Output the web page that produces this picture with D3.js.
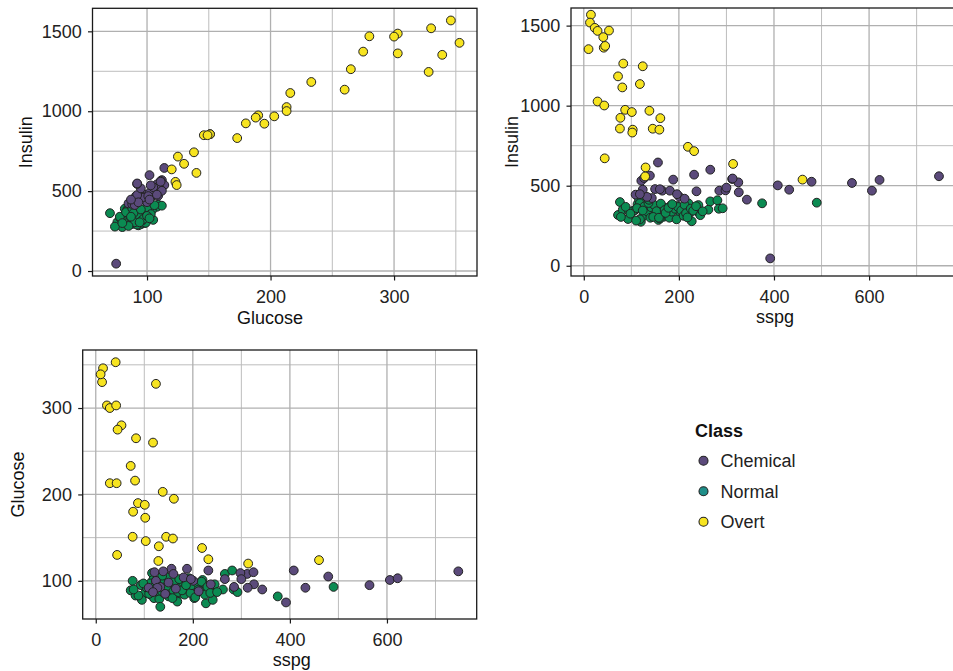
<!DOCTYPE html>
<html>
<head>
<meta charset="utf-8">
<script src="https://cdn.jsdelivr.net/npm/d3@7"></script>
<style>
  body { margin: 0; background: #fff; }
  svg { display: block; }
  text { font-family: "Liberation Sans", Arial, Helvetica, sans-serif; }
</style>
</head>
<body>
<svg id="chart" width="953" height="671"></svg>
<script>
// Reaven & Miller diabetes study: glucose, insulin and sspg by clinical class.
const classes = ["Chemical", "Normal", "Overt"];

const normalGlucose = [82,93,100,89,83,95,89,84,109,101,80,79,70,105,93,102,85,76,100,91,80,101,95,74,78,90,108,112,90,87,89,
  85,92,97,88,94,99,86,91,104,82,96,89,100,87,93,98,84,91,103,86,95,81,97,90,88,99,84,93,86,96,92,78,83,90,97,85,100,88,94,80,102,89,95,87,106];
const normalInsulin = [390,394,398,317,350,292,348,385,415,390,275,323,362,320,286,369,359,306,352,373,323,390,331,278,334,350,402,409,356,359,379,
  330,345,360,310,372,335,300,365,380,318,341,295,388,348,322,300,376,338,356,290,367,345,312,380,328,302,357,344,372,316,290,340,368,305,325,282,345,392,305,300,330,362,385,340,412];
const normalSspg = [375,490,76,72,82,93,108,113,116,118,120,131,133,145,157,166,174,168,188,197,203,220,223,227,241,262,266,281,284,292,241,
  100,105,112,125,128,135,140,142,148,150,153,160,162,170,176,180,183,185,192,195,198,205,210,212,215,218,225,230,236,245,118,95,88,78,98,110,124,136,146,158,172,178,186,250,137];

const chemicalGlucose = [114,112,102,110,111,114,108,110,100,92,98,91,104,85,100,88,96,93,109,102,96,90,112,105,92,75,95,101,103,111,92,93,92,87,102,108];
const chemicalInsulin = [645,569,600,531,563,538,542,521,475,444,479,469,469,423,431,419,465,469,471,488,459,413,502,525,475,46,517,469,536,559,545,430,548,447,447,478];
const chemicalSspg = [156,232,266,121,139,188,312,325,124,109,150,165,181,143,201,212,237,285,298,300,326,343,408,479,432,392,564,606,622,747,313,133,127,118,196,160];

const overtGlucose = [346,330,303,300,280,353,303,275,339,265,328,233,216,260,213,213,190,188,203,180,195,151,146,173,151,149,138,125,130,140,120,123,124];
const overtInsulin = [1568,1519,1486,1467,1469,1428,1362,1373,1353,1263,1246,1183,1114,1135,1026,1001,974,960,968,924,922,857,850,832,856,850,743,716,671,614,636,558,538];
const overtSspg = [15,13,23,29,53,41,42,45,10,83,124,72,81,118,29,43,87,101,138,77,161,76,103,102,145,159,219,232,44,130,314,129,460];

// Axis ticks
const glucoseTicks = [100, 200, 300];
const glucoseMinor = [150, 250, 350];
const insulinTicks = [0, 500, 1000, 1500];
const insulinMinor = [250, 750, 1250];
const sspgTicks = [0, 200, 400, 600];
const sspgMinor = [100, 300, 500, 700];

const pointFill = { Chemical: "#5b4a7b", Normal: "#0b8b52", Overt: "#f7e420" };
const keyFill = { Chemical: "#5b4a7b", Normal: "#1f8e89", Overt: "#f7e420" };

function rows(cls, g, ins, s) {
  return g.map((v, k) => ({ cls, glucose: v, insulin: ins[k], sspg: s[k] }));
}
const data = [
  ...rows("Normal", normalGlucose, normalInsulin, normalSspg),
  ...rows("Chemical", chemicalGlucose, chemicalInsulin, chemicalSspg),
  ...rows("Overt", overtGlucose, overtInsulin, overtSspg)
];

const panels = [
  { xv: "glucose", yv: "insulin", xt: "Glucose", yt: "Insulin",
    x0: 92.5, x1: 477, y0: 8.3, y1: 276,
    xDom: [55.85, 367.15], yDom: [-31.15, 1644.15],
    xTicks: glucoseTicks, xMinor: glucoseMinor, yTicks: insulinTicks, yMinor: insulinMinor,
    xTitleX: 270, xTitleY: 324, yTitleX: 32 },
  { xv: "sspg", yv: "insulin", xt: "sspg", yt: "Insulin",
    x0: 571, x1: 957, y0: 8, y1: 276,
    xDom: [-26.9, 784.9], yDom: [-64, 1610],
    xTicks: sspgTicks, xMinor: sspgMinor, yTicks: insulinTicks, yMinor: insulinMinor,
    xTitleX: 775, xTitleY: 323, yTitleX: 518 },
  { xv: "sspg", yv: "glucose", xt: "sspg", yt: "Glucose",
    x0: 82.7, x1: 476.7, y0: 350, y1: 619,
    xDom: [-26.9, 784.9], yDom: [55.85, 367.15],
    xTicks: sspgTicks, xMinor: sspgMinor, yTicks: glucoseTicks, yMinor: glucoseMinor,
    xTitleX: 291.7, xTitleY: 666, yTitleX: 24 }
];

const svg = d3.select("#chart");
const fontSize = 18;

panels.forEach(p => {
  const x = d3.scaleLinear().domain(p.xDom).range([p.x0, p.x1]);
  const y = d3.scaleLinear().domain(p.yDom).range([p.y1, p.y0]);
  const g = svg.append("g");

  const clipId = "clip-" + p.x0;
  svg.append("clipPath").attr("id", clipId)
    .append("rect").attr("x", p.x0).attr("y", p.y0)
    .attr("width", p.x1 - p.x0).attr("height", p.y1 - p.y0);

  const grid = g.append("g").attr("clip-path", `url(#${clipId})`);
  // minor grid
  grid.selectAll(".mx").data(p.xMinor).join("line")
    .attr("x1", d => x(d)).attr("x2", d => x(d)).attr("y1", p.y0).attr("y2", p.y1)
    .attr("stroke", "#bdbdbd").attr("stroke-width", 1);
  grid.selectAll(".my").data(p.yMinor).join("line")
    .attr("y1", d => y(d)).attr("y2", d => y(d)).attr("x1", p.x0).attr("x2", p.x1)
    .attr("stroke", "#bdbdbd").attr("stroke-width", 1);
  // major grid
  grid.selectAll(".Mx").data(p.xTicks).join("line")
    .attr("x1", d => x(d)).attr("x2", d => x(d)).attr("y1", p.y0).attr("y2", p.y1)
    .attr("stroke", "#b0b0b0").attr("stroke-width", 1.3);
  grid.selectAll(".My").data(p.yTicks).join("line")
    .attr("y1", d => y(d)).attr("y2", d => y(d)).attr("x1", p.x0).attr("x2", p.x1)
    .attr("stroke", "#b0b0b0").attr("stroke-width", 1.3);

  // points
  g.append("g").attr("clip-path", `url(#${clipId})`)
    .selectAll("circle").data(data).join("circle")
    .attr("cx", d => x(d[p.xv])).attr("cy", d => y(d[p.yv]))
    .attr("r", 4.4)
    .attr("fill", d => pointFill[d.cls])
    .attr("stroke", "#222").attr("stroke-width", 1);

  // panel border
  g.append("rect").attr("x", p.x0).attr("y", p.y0)
    .attr("width", p.x1 - p.x0).attr("height", p.y1 - p.y0)
    .attr("fill", "none").attr("stroke", "#1a1a1a").attr("stroke-width", 1.3);

  // axes
  const ax = g.append("g").attr("transform", `translate(0,${p.y1})`)
    .call(d3.axisBottom(x).tickValues(p.xTicks).tickSize(4.5).tickPadding(9.5).tickFormat(d3.format("d")));
  const ay = g.append("g").attr("transform", `translate(${p.x0},0)`)
    .call(d3.axisLeft(y).tickValues(p.yTicks).tickSize(4.5).tickPadding(6.3).tickFormat(d3.format("d")));
  [ax, ay].forEach(a => {
    a.select(".domain").remove();
    a.selectAll(".tick line").attr("stroke", "#1a1a1a").attr("stroke-width", 1.2);
    a.selectAll(".tick text").attr("fill", "#222").style("font-size", fontSize + "px")
      .style("font-family", '"Liberation Sans", Arial, sans-serif');
  });

  g.append("text").attr("x", p.xTitleX).attr("y", p.xTitleY)
    .attr("text-anchor", "middle").attr("fill", "#111").style("font-size", fontSize + "px")
    .text(p.xt);
  g.append("text")
    .attr("transform", `translate(${p.yTitleX},${(p.y0 + p.y1) / 2}) rotate(-90)`)
    .attr("text-anchor", "middle").attr("fill", "#111").style("font-size", fontSize + "px")
    .text(p.yt);
});

// legend
const lg = svg.append("g");
lg.append("text").attr("x", 695).attr("y", 436.5)
  .attr("fill", "#111").style("font-size", "18px").style("font-weight", "bold").text("Class");
const keyY = d3.scalePoint().domain(classes).range([460.7, 521.7]);
classes.forEach(c => {
  lg.append("circle").attr("cx", 703.5).attr("cy", keyY(c)).attr("r", 4.5)
    .attr("fill", keyFill[c]).attr("stroke", "#222").attr("stroke-width", 1.1);
  lg.append("text").attr("x", 720.5).attr("y", keyY(c) + 6.3)
    .attr("fill", "#222").style("font-size", "18px").text(c);
});
</script>
</body>
</html>
